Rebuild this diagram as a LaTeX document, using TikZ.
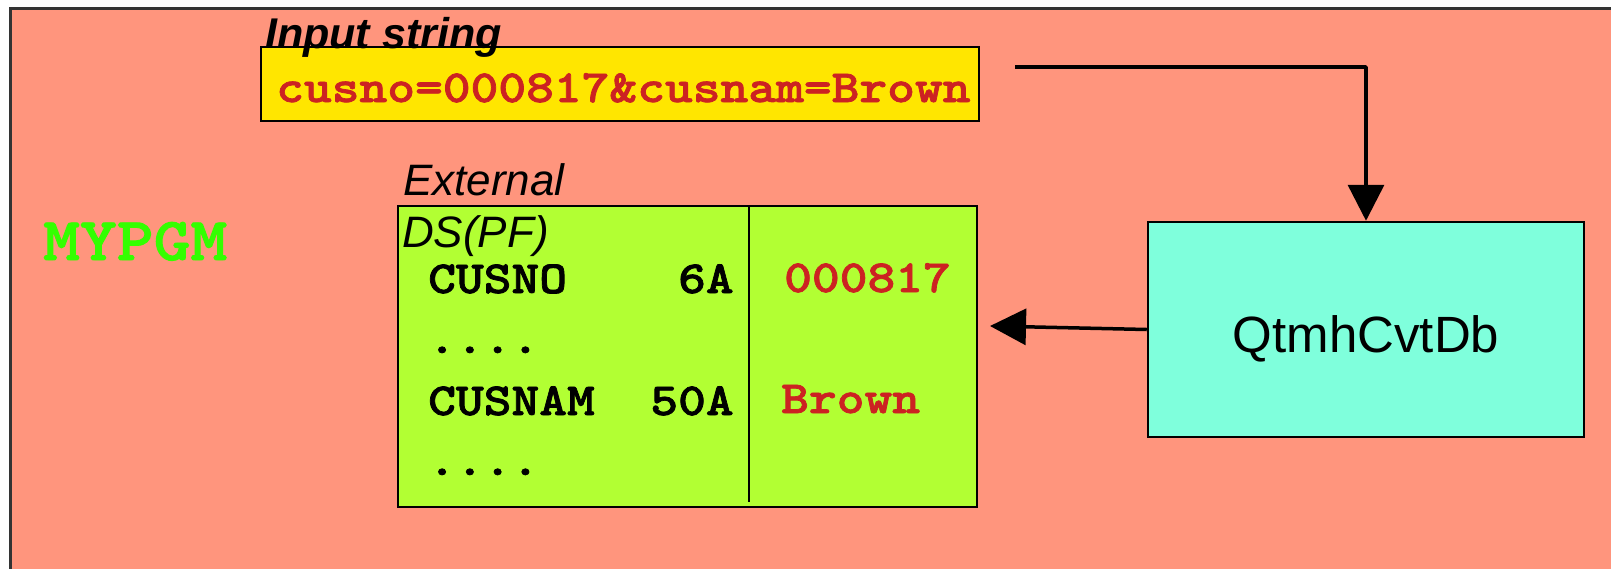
\documentclass[tikz,border=0pt]{standalone}
\usepackage{fontspec}
\setmainfont{Liberation Sans}
\newfontfamily\courfont{lmmonolt10-bold}[Extension=.otf, FakeBold=1.6, FakeStretch=1.15]
\usetikzlibrary{arrows.meta}
\definecolor{salmonbg}{RGB}{255,149,125}
\definecolor{inyellow}{RGB}{255,230,0}
\definecolor{dsgreen}{RGB}{178,255,51}
\definecolor{apicyan}{RGB}{127,255,220}
\definecolor{valred}{RGB}{204,34,34}
\definecolor{pgmgreen}{RGB}{51,255,0}
\newcommand{\cw}[2]{{\fontsize{#1}{#1}\courfont #2}}
\tikzset{
  boxstyle/.style={draw=black, line width=2.5pt, inner sep=0pt},
  lbl/.style={inner sep=0pt, anchor=base west},
  conn/.style={draw=black, line width=3.5pt, line join=round, -{Triangle[length=36pt,width=36pt]}},
}
\begin{document}
\begin{tikzpicture}[x=1pt,y=-1pt]
\useasboundingbox (0,0) rectangle (1611,568);
\fill[white] (0,0) rectangle (1611,568);
\clip (0,0) rectangle (1611,568);
% outer program box
\path[fill=salmonbg, draw=black!80, line width=3pt] (10,8) rectangle (1640,600);
\node[lbl, text=pgmgreen] (pgm) at (43,260) {\cw{61}{MYPGM}};
% input string
\node[boxstyle, fill=inyellow, minimum width=718pt, minimum height=74pt] (inbox) at (620,84) {};
\node[lbl] (inlbl) at (265,48) {\fontsize{43}{43}\selectfont\bfseries\itshape Input string};
\node[lbl, text=valred] (instr) at (276,102) {\cw{46}{cusno=000817\&cusnam=Brown}};
% external DS
\node[lbl] (extlbl) at (403,195) {\fontsize{44}{44}\selectfont\itshape External};
\node[boxstyle, fill=dsgreen, minimum width=579pt, minimum height=301pt] (ds) at (687.5,356.5) {};
\coordinate (divtop) at (749,206);
\coordinate (divbot) at (749,502);
\draw[line width=2.5pt] (divtop) -- (divbot);
\node[lbl] (dslbl) at (402,247) {\fontsize{44}{44}\selectfont\itshape DS(PF)};
\node[lbl] (r1) at (428,293) {\cw{46}{CUSNO\ \ \ \ 6A}};
\node[lbl] (r2) at (428,353) {\cw{46}{....}};
\node[lbl] (r3) at (428,415) {\cw{46}{CUSNAM\ \ 50A}};
\node[lbl] (r4) at (428,475) {\cw{46}{....}};
\node[lbl, text=valred] (v1) at (784,292) {\cw{46}{000817}};
\node[lbl, text=valred] (v2) at (781,413) {\cw{46}{Brown}};
% API box
\node[boxstyle, fill=apicyan, minimum width=436pt, minimum height=215pt] (api) at (1366,329.5) {};
\node[inner sep=0pt, anchor=base] (apilbl) at (1366,352) {\fontsize{51}{51}\selectfont QtmhCvtDb};
% connectors
\coordinate (instart) at (1015,67);
\coordinate (dstip) at (990,326);
\draw[conn] (instart) -| (api.north);
\draw[conn] (api.west) -- (dstip);
\end{tikzpicture}
\end{document}
